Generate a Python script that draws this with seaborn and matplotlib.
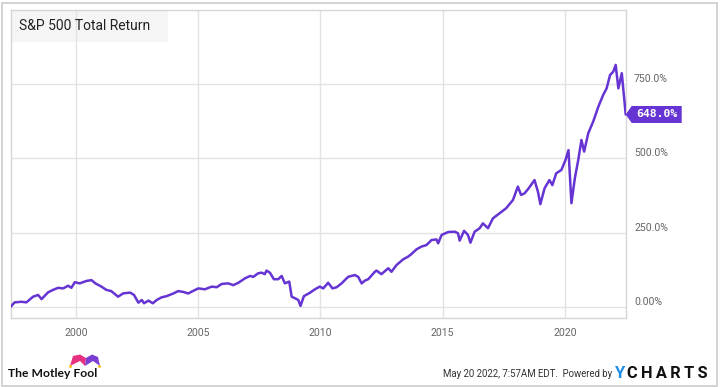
import numpy as np
import pandas as pd
import matplotlib
matplotlib.use("Agg")
import matplotlib.pyplot as plt
from matplotlib.patches import Rectangle, Polygon, Circle
import seaborn as sns

# ---- data (decimal year, total return %) ----
years = [1997.34, 1997.42, 1997.50, 1997.78, 1997.98, 1998.25, 1998.46, 1998.60, 1998.87,
         1999.07, 1999.28, 1999.48, 1999.69, 1999.82, 1999.96, 2000.16, 2000.43, 2000.64,
         2000.80, 2001.05, 2001.25, 2001.45, 2001.73, 2001.93, 2002.22, 2002.38, 2002.56,
         2002.70, 2002.79, 2002.97, 2003.15, 2003.31, 2003.51, 2003.72, 2003.99, 2004.19,
         2004.40, 2004.60, 2004.81, 2005.01, 2005.28, 2005.56, 2005.76, 2005.97, 2006.24,
         2006.44, 2006.65, 2006.92, 2007.13, 2007.26, 2007.46, 2007.60, 2007.73, 2007.80,
         2007.94, 2008.10, 2008.28, 2008.42, 2008.55, 2008.73, 2008.83, 2008.96, 2009.10,
         2009.19, 2009.33, 2009.57, 2009.78, 2009.98, 2010.12, 2010.32, 2010.50, 2010.67,
         2010.87, 2011.14, 2011.41, 2011.55, 2011.69, 2011.82, 2011.96, 2012.23, 2012.30,
         2012.50, 2012.78, 2012.91, 2013.12, 2013.39, 2013.59, 2013.73, 2013.94, 2014.14,
         2014.34, 2014.55, 2014.75, 2014.82, 2014.96, 2015.23, 2015.50, 2015.63, 2015.70,
         2015.88, 2016.04, 2016.14, 2016.31, 2016.52, 2016.65, 2016.86, 2017.06, 2017.33,
         2017.60, 2017.88, 2018.08, 2018.21, 2018.35, 2018.52, 2018.76, 2018.90, 2019.00,
         2019.17, 2019.37, 2019.49, 2019.65, 2019.86, 2020.03, 2020.15, 2020.27, 2020.41,
         2020.55, 2020.68, 2020.79, 2020.96, 2021.16, 2021.37, 2021.57, 2021.71, 2021.85,
         2021.98, 2022.08, 2022.19, 2022.33, 2022.49]
total_return = [0, 8, 15, 17, 15, 34, 40, 26, 49,
                57, 64, 62, 71, 64, 83, 79, 87, 90,
                79, 68, 57, 53, 34, 45, 48, 40, 14,
                23, 12, 21, 12, 23, 32, 36, 45, 53,
                50, 45, 54, 62, 59, 68, 66, 77, 79,
                73, 81, 96, 104, 101, 113, 115, 110, 122,
                115, 93, 93, 104, 79, 85, 34, 29, 23,
                3, 36, 47, 59, 68, 62, 81, 62, 66,
                79, 101, 107, 101, 79, 88, 93, 118, 122,
                110, 130, 118, 141, 160, 169, 178, 194, 203,
                208, 225, 227, 214, 242, 252, 253, 248, 223,
                256, 242, 216, 253, 265, 281, 265, 298, 315,
                332, 360, 405, 377, 382, 399, 427, 388, 346,
                399, 427, 410, 450, 461, 495, 528, 349, 433,
                495, 562, 523, 585, 624, 674, 714, 736, 781,
                792, 815, 736, 787, 648]
y_ticks = [0, 250, 500, 750]
y_tick_labels = ["0.00%", "250.0%", "500.0%", "750.0%"]
x_ticks = [2000, 2005, 2010, 2015, 2020]
x_tick_labels = ["2000", "2005", "2010", "2015", "2020"]
title = "S&P 500 Total Return"
last_label = "648.0%"

df = pd.DataFrame({"year": years, "ret": total_return})

sns.set_theme(style="white")
plt.rcParams["font.family"] = ["Roboto", "DejaVu Sans"]

W, H = 720, 387
fig = plt.figure(figsize=(W / 100, H / 100), dpi=100)
fig.patch.set_facecolor("white")

def fx(x):
    return x / W

def fy(y):
    return 1 - y / H

ax_l, ax_t, ax_r, ax_b = 10.5, 10, 625.7, 318
ax = fig.add_axes([fx(ax_l), fy(ax_b), (ax_r - ax_l) / W, (ax_b - ax_t) / H])

PURPLE = "#6534d3"
sns.lineplot(data=df, x="year", y="ret", ax=ax, color=PURPLE, linewidth=1.8, zorder=3)

ax.set_xlim(1997.33, 2022.49)
ax.set_ylim(-37.7, 1000)
ax.set_xlabel("")
ax.set_ylabel("")

ax.set_xticks(x_ticks)
ax.set_xticklabels(x_tick_labels)
ax.set_yticks(y_ticks)
ax.set_yticklabels(y_tick_labels)
ax.yaxis.tick_right()
ax.tick_params(axis="both", length=0, labelsize=7.6, labelcolor="#666666")
ax.tick_params(axis="x", pad=7)
ax.tick_params(axis="y", pad=6)
for lab in ax.get_yticklabels():
    lab.set_verticalalignment("bottom")

ax.grid(True, color="#e3e3e3", linewidth=1)
ax.set_axisbelow(True)
for s in ax.spines.values():
    s.set_color("#d6d6d6")
    s.set_linewidth(1)
    s.set_visible(True)

# title box
ax.add_patch(Rectangle((fx(10.5), fy(42)), fx(168) - fx(10.5), fy(10) - fy(42),
                       transform=fig.transFigure, facecolor="#f5f5f5",
                       edgecolor="none", zorder=0.2))
fig.text(fx(19), fy(26.5), title, fontsize=10, color="#222222", va="center", ha="left")

# outer border
fig.patches.append(Rectangle((fx(1.5), fy(385.5)), fx(716.5) - fx(1.5), fy(3) - fy(385.5),
                             transform=fig.transFigure, fill=False,
                             edgecolor="#cccccc", linewidth=1.2))

# last value label
fig.canvas.draw()
px, py = ax.transData.transform((years[-1], total_return[-1]))
tip = px
hh = 8.5
poly = Polygon([(tip, py), (tip + 6, py + hh), (tip + 56, py + hh),
                (tip + 56, py - hh), (tip + 6, py - hh)], closed=True,
               transform=None, facecolor=PURPLE, edgecolor="none", clip_on=False)
fig.patches.append(poly)
fig.text((tip + 31) / W, py / H, last_label, fontsize=8.2, color="white",
         fontweight="bold", ha="center", va="center", family=["DejaVu Sans Mono"])

# footer: Motley Fool logo
fig.text(fx(8), fy(373.5), "The Motley Fool", fontsize=8.7, fontweight="bold",
         color="#111111", ha="left", va="center", family=["Lato", "DejaVu Sans"])
pink = Polygon([(fx(70), fy(366)), (fx(73), fy(356)), (fx(80), fy(354.5)),
                (fx(86), fy(358)), (fx(85), fy(366)), (fx(80), fy(361))],
               closed=True, transform=fig.transFigure, facecolor="#e5317f", edgecolor="none")
purp = Polygon([(fx(85), fy(366)), (fx(86), fy(358)), (fx(92), fy(354.5)),
                (fx(98), fy(357)), (fx(100), fy(366)), (fx(93), fy(361))],
               closed=True, transform=fig.transFigure, facecolor="#7a3fd1", edgecolor="none")
fig.patches.extend([pink, purp])
for cx in (70.5, 99.5):
    fig.patches.append(Circle((cx, H - 366.5), 1.4, transform=None,
                              facecolor="#f2b705", edgecolor="none"))

# footer: right
fig.text(fx(612), fy(374), "May 20 2022, 7:57AM EDT.  Powered by", fontsize=6.9,
         color="#333333", ha="right", va="center")
fig.text(fx(614), fy(373.5), "Y", fontsize=12, fontweight="bold", color="#1e8fe8",
         ha="left", va="center")
fig.text(fx(627), fy(373.5), "C H A R T S".replace(" ", "\u2009"), fontsize=11.8,
         fontweight="bold", color="#111111", ha="left", va="center")

fig.savefig("out.png", dpi=100)
